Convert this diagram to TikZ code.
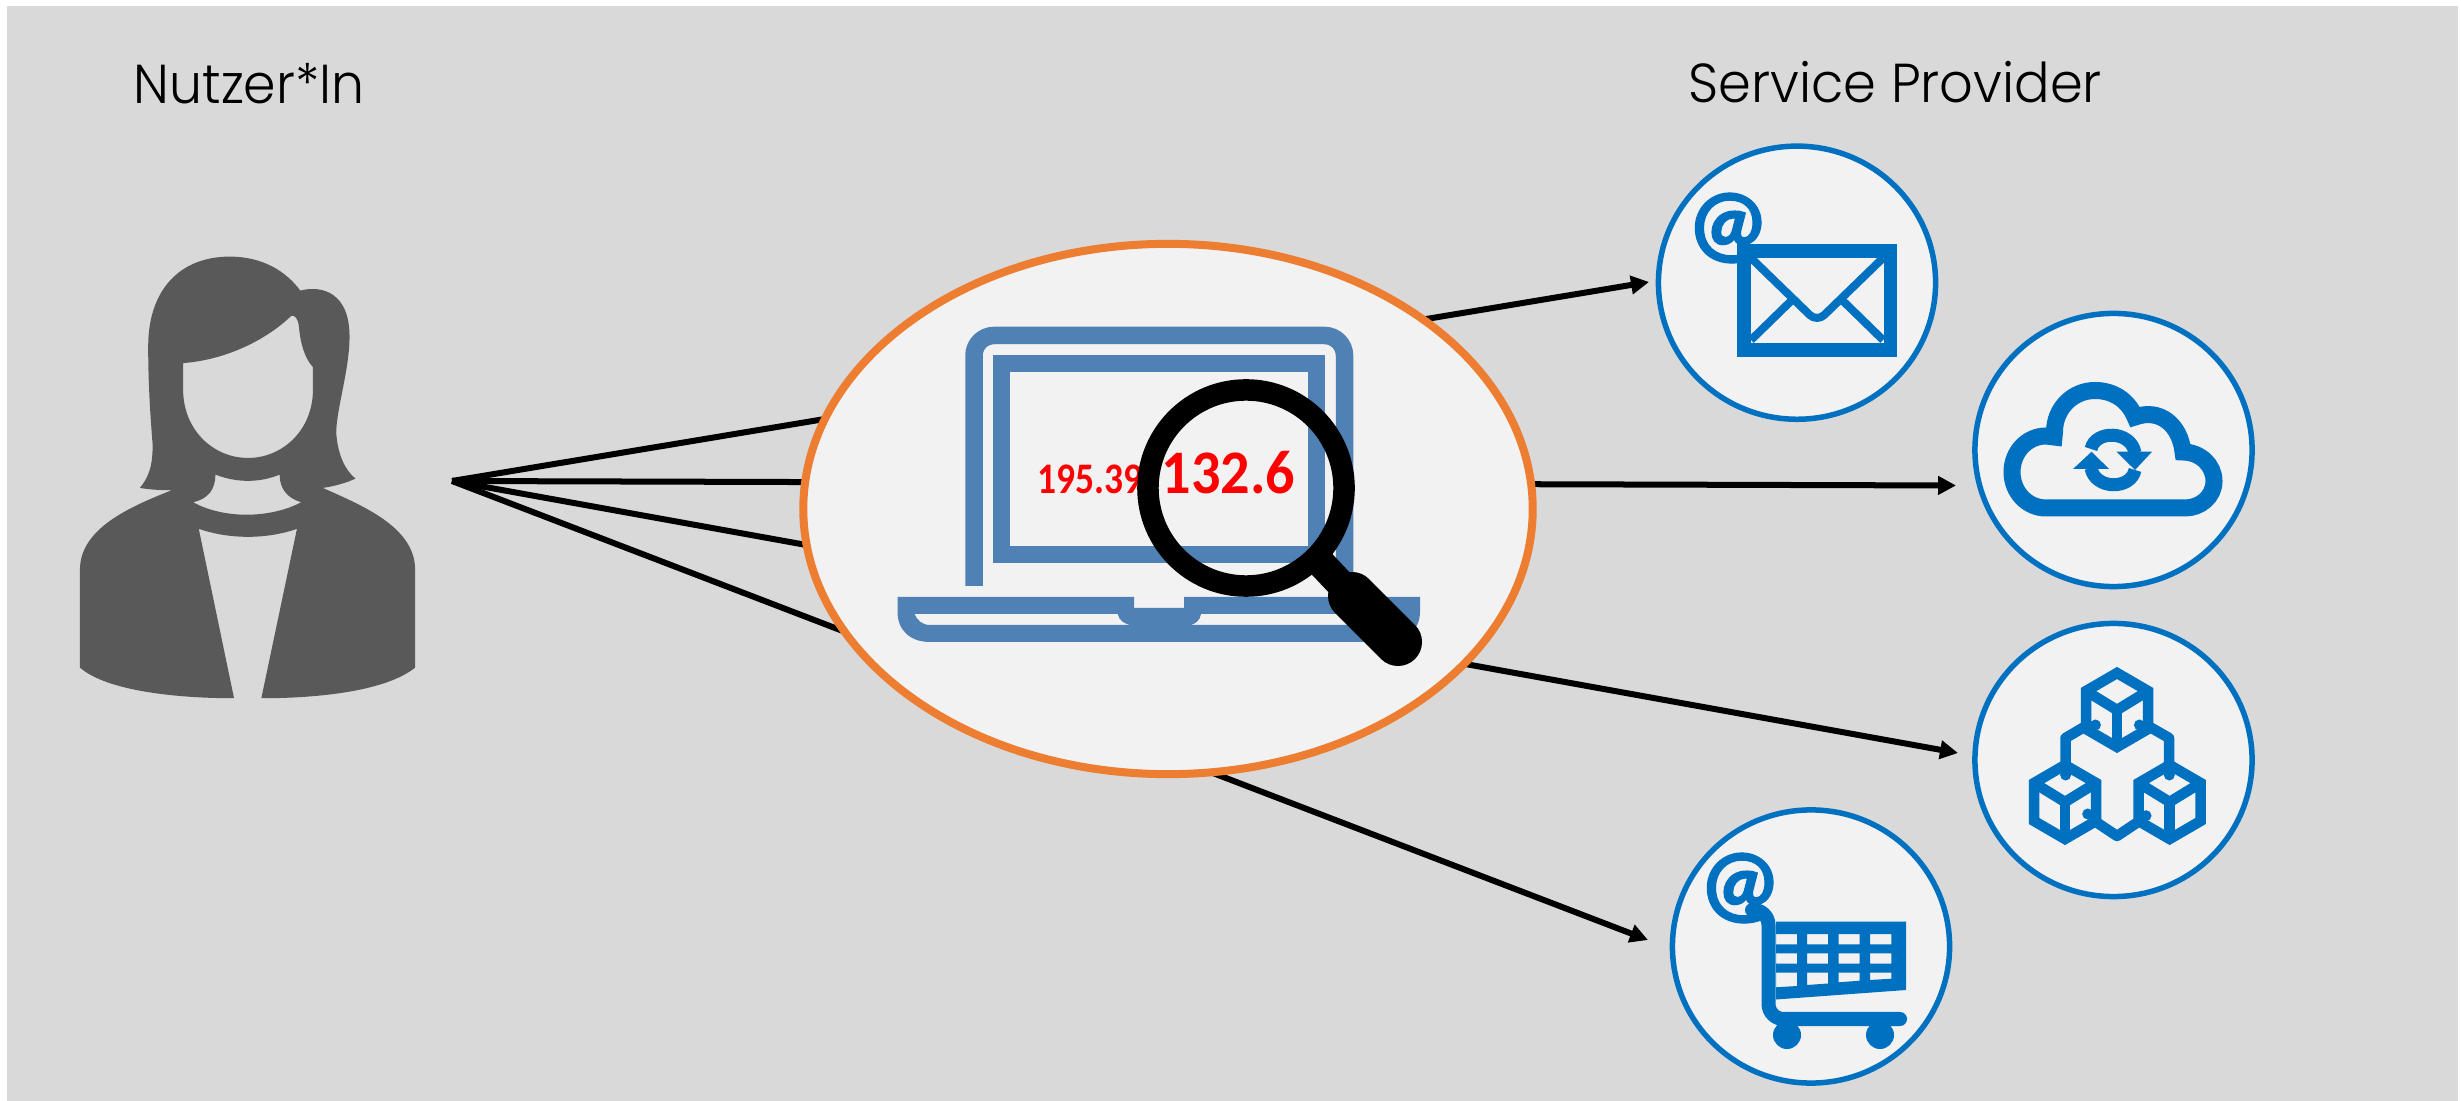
\documentclass[tikz,border=0pt]{standalone}
\usepackage{graphicx}
\usepackage{fontspec}
\usetikzlibrary{arrows.meta,shapes.geometric}
\setmainfont{Carlito}
\newfontfamily\titlefont[UprightFont={* Light}]{Poppins}
\newfontfamily\atfont[UprightFont={* Bold},FakeBold=1.2]{Carlito}
\definecolor{bggray}{HTML}{D9D9D9}
\definecolor{panel}{HTML}{F2F2F2}
\definecolor{orangeline}{HTML}{ED7D31}
\definecolor{iconblue}{HTML}{0070C0}
\definecolor{laptopblue}{HTML}{4F81B4}
\definecolor{persongray}{HTML}{595959}
\tikzset{
  connector/.style={line width=0.06cm,black},
  arrowline/.style={connector,-{Triangle[length=0.18cm,width=0.18cm]}},
  serviceball/.style={ellipse,draw=iconblue,fill=panel,line width=0.055cm,minimum width=2.77cm,minimum height=2.73cm,inner sep=0pt,outer sep=0pt},
  title/.style={anchor=base west,inner sep=0pt,font=\titlefont\fontsize{15.6}{18}\selectfont},
  iptext/.style={anchor=base west,inner sep=0pt,text=red},
  atsign/.style={inner sep=0pt,text=iconblue,font=\atfont\fontsize{26}{30}\selectfont},
  icon/.style={iconblue,line width=0.105cm,miter limit=10},
}
\begin{document}
\begin{tikzpicture}[x=0.01cm,y=-0.01cm]
\useasboundingbox (0,0) rectangle (2461,1101);
\fill[white] (0,0) rectangle (2461,1101);
\fill[bggray] (7,6) rectangle (2458,1101);

% titles
\node[title] (usertitle) at (133,104) {\scalebox{0.95}[1]{Nutzer*In}};
\node[title] (servicetitle) at (1688,103) {\scalebox{0.96}[1]{Service Provider}};

% person
\begin{scope}[shift={(60,230)},x=0.003333cm,y=-0.003333cm]
\fill[persongray,even odd rule]
 (240,775) .. controls (265,745) and (280,710) .. (278,640)
 .. controls (270,540) and (265,450) .. (265,350)
 .. controls (265,180) and (360,80) .. (510,80)
 .. controls (610,80) and (680,125) .. (722,182)
 .. controls (790,165) and (870,190) .. (870,320)
 .. controls (870,420) and (830,540) .. (830,610)
 .. controls (835,680) and (860,725) .. (888,747)
 .. controls (860,760) and (825,770) .. (790,775)
 .. controls (900,825) and (1067,890) .. (1067,1020)
 -- (1067,1315)
 .. controls (980,1385) and (780,1407) .. (605,1407)
 -- (712,898)
 .. controls (620,930) and (510,930) .. (417,898)
 -- (523,1407)
 .. controls (350,1407) and (140,1385) .. (60,1315)
 -- (60,1020)
 .. controls (60,890) and (230,825) .. (335,782)
 .. controls (300,782) and (270,780) .. (240,775) -- cycle
 (370,400) .. controls (500,390) and (620,330) .. (695,258)
 .. controls (705,255) and (715,265) .. (718,290)
 .. controls (722,340) and (735,385) .. (760,412)
 -- (760,480)
 .. controls (760,600) and (670,685) .. (565,685)
 .. controls (460,685) and (370,600) .. (370,480) -- cycle
 (467,735) .. controls (530,760) and (600,760) .. (660,735)
 .. controls (660,775) and (680,805) .. (725,818)
 .. controls (630,868) and (490,868) .. (400,818)
 .. controls (445,808) and (467,780) .. (467,735) -- cycle;
\end{scope}

% connector ends
\coordinate (hub) at (452,481);
\coordinate (tipmail) at (1649,282);
\coordinate (tipcloud) at (1956,485.5);
\coordinate (tipcubes) at (1958,753);
\coordinate (tipcart) at (1648,940);
\draw[arrowline] (hub) -- (tipmail);
\draw[arrowline] (hub) -- (tipcloud);
\draw[arrowline] (hub) -- (tipcubes);
\draw[arrowline] (hub) -- (tipcart);

% central ellipse
\node[ellipse,draw=orangeline,fill=panel,line width=0.08cm,minimum width=7.29cm,minimum height=5.30cm,inner sep=0pt,outer sep=0pt] (proxy) at (1168,509) {};

% laptop
\draw[laptopblue,line width=0.175cm,rounded corners=0.2cm] (974,586) -- (974,335.5) -- (1344.5,335.5) -- (1344.5,586);
\draw[laptopblue,line width=0.17cm] (1001.5,363.5) rectangle (1316,554.5);
\fill[laptopblue,even odd rule]
 (897.5,597) -- (1134,597) -- (1134,608) -- (1184,608) -- (1184,597) -- (1420,597) -- (1420,612)
 .. controls (1420,630) and (1405,642) .. (1388,642) -- (930,642)
 .. controls (910,642) and (897.5,630) .. (897.5,612) -- cycle
 (914.5,614) -- (1117.7,614) .. controls (1119,620) and (1124,624) .. (1131,625) -- (930,625) .. controls (922,625) and (917,620) .. (914.5,614) -- cycle
 (1201,614) -- (1403,614) .. controls (1401,620) and (1396,625) .. (1390,625) -- (1190,625) .. controls (1196,624) and (1200,620) .. (1201,614) -- cycle;

% address text
\node[iptext,font=\bfseries\fontsize{12.4}{14}\selectfont] (ipsmall) at (1037,494) {\scalebox{0.86}[1]{195.39}};
\node[iptext,font=\bfseries\fontsize{17.6}{20}\selectfont] (ipbig) at (1161,494) {\scalebox{0.94}[1]{132.6}};

% magnifier
\draw[black,line width=0.215cm] (1246,488) circle[radius=0.98cm];
\draw[black,line width=0.29cm] (1318,560) -- (1352,596);
\draw[black,line width=0.48cm,line cap=round] (1352,596) -- (1398,642);

% service circles
\node[serviceball] (mail) at (1797,282.7) {};
\node[serviceball] (cloud) at (2113.5,450) {};
\node[serviceball] (cubes) at (2113.5,760) {};
\node[serviceball] (cart) at (1811,946.5) {};

% mail icon
\node[atsign] (mailat) at (1728,228) {@};
\draw[iconblue,fill=panel,line width=0.135cm] (1743.8,251) rectangle (1890.5,350);
\draw[iconblue,line width=0.08cm,rounded corners=0.1cm] (1751,258) -- (1817,322) -- (1883,258);
\draw[iconblue,line width=0.08cm] (1751,340) -- (1791,301);
\draw[iconblue,line width=0.08cm] (1883,340) -- (1843,301);

% cloud icon
\draw[iconblue,line width=0.17cm,miter limit=3]
 (2046,508) .. controls (2027,508) and (2012,492) .. (2012,472)
 .. controls (2012,452) and (2027,436) .. (2046,436)
 -- (2054,437) -- (2054.5,432)
 .. controls (2054.5,408) and (2073,390.5) .. (2095,390.5)
 .. controls (2113,390.5) and (2128,400) .. (2135,417)
 .. controls (2160,408) and (2180,425) .. (2183,452)
 .. controls (2200,452) and (2214,465) .. (2214,481)
 .. controls (2214,497) and (2200,508) .. (2185,508) -- cycle;
\draw[iconblue,line width=0.13cm] (2091,449) .. controls (2095,430) and (2131,430) .. (2135,453);
\draw[iconblue,line width=0.13cm] (2135,470) .. controls (2131,490) and (2095,490) .. (2091,468);
\fill[iconblue] (2116.5,451.7) -- (2152,451.7) -- (2135,470) -- cycle;
\fill[iconblue] (2073,469) -- (2109,469) -- (2091.6,451.7) -- cycle;

% cubes icon
\foreach \cx/\cy in {2117/710,2065/802,2169.6/802}{
  \begin{scope}[shift={(\cx,\cy)}]
  \draw[icon] (0,-37) -- (31,-19) -- (31,19) -- (0,37) -- (-31,19) -- (-31,-19) -- cycle;
  \draw[icon] (-31,-19) -- (0,0) -- (31,-19);
  \draw[icon] (0,0) -- (0,37);
  \end{scope}
}
\draw[icon,line join=round] (2086,726) -- (2065.5,738) -- (2065.5,770);
\draw[icon,line join=round] (2148,726) -- (2169,738) -- (2169,770);
\draw[icon,line join=round] (2096,822) -- (2117,836) -- (2138,822);
\foreach \dx/\dy in {2095.4/725,2139.4/725,2065.6/775,2169.3/775,2087.7/814,2146/815.7}{
  \fill[iconblue] (\dx,\dy) circle[radius=0.055cm];
}

% cart icon
\node[atsign] (cartat) at (1740,888) {@};
\draw[iconblue,line width=0.14cm,line cap=round,rounded corners=0.15cm] (1752,910) -- (1768.5,910) -- (1768.5,1019) -- (1900,1019);
\fill[iconblue,even odd rule]
 (1776,921.7) -- (1906,921.7) -- (1906,990) -- (1776,999.5) -- cycle
 (1776,934) rectangle (1797,944.3) (1807,934) rectangle (1828,944.3) (1838.6,934) rectangle (1859.7,944.3) (1870,934) rectangle (1891.4,944.3)
 (1776,953.3) rectangle (1797,963.7) (1807,953.3) rectangle (1828,963.7) (1838.6,953.3) rectangle (1859.7,963.7) (1870,953.3) rectangle (1891.4,963.7)
 (1776,972.7) -- (1797,972.7) -- (1797,986) -- (1776,987.3) -- cycle
 (1807,972.7) -- (1828,972.7) -- (1828,983.5) -- (1807,985) -- cycle
 (1838.6,972.7) -- (1859.7,972.7) -- (1859.7,980.7) -- (1838.6,982.3) -- cycle
 (1870,972.7) -- (1891.4,972.7) -- (1891.4,978.7) -- (1870,980) -- cycle;
\fill[iconblue] (1787,1035) circle[radius=0.14cm];
\fill[iconblue] (1880,1035) circle[radius=0.14cm];
\end{tikzpicture}
\end{document}
